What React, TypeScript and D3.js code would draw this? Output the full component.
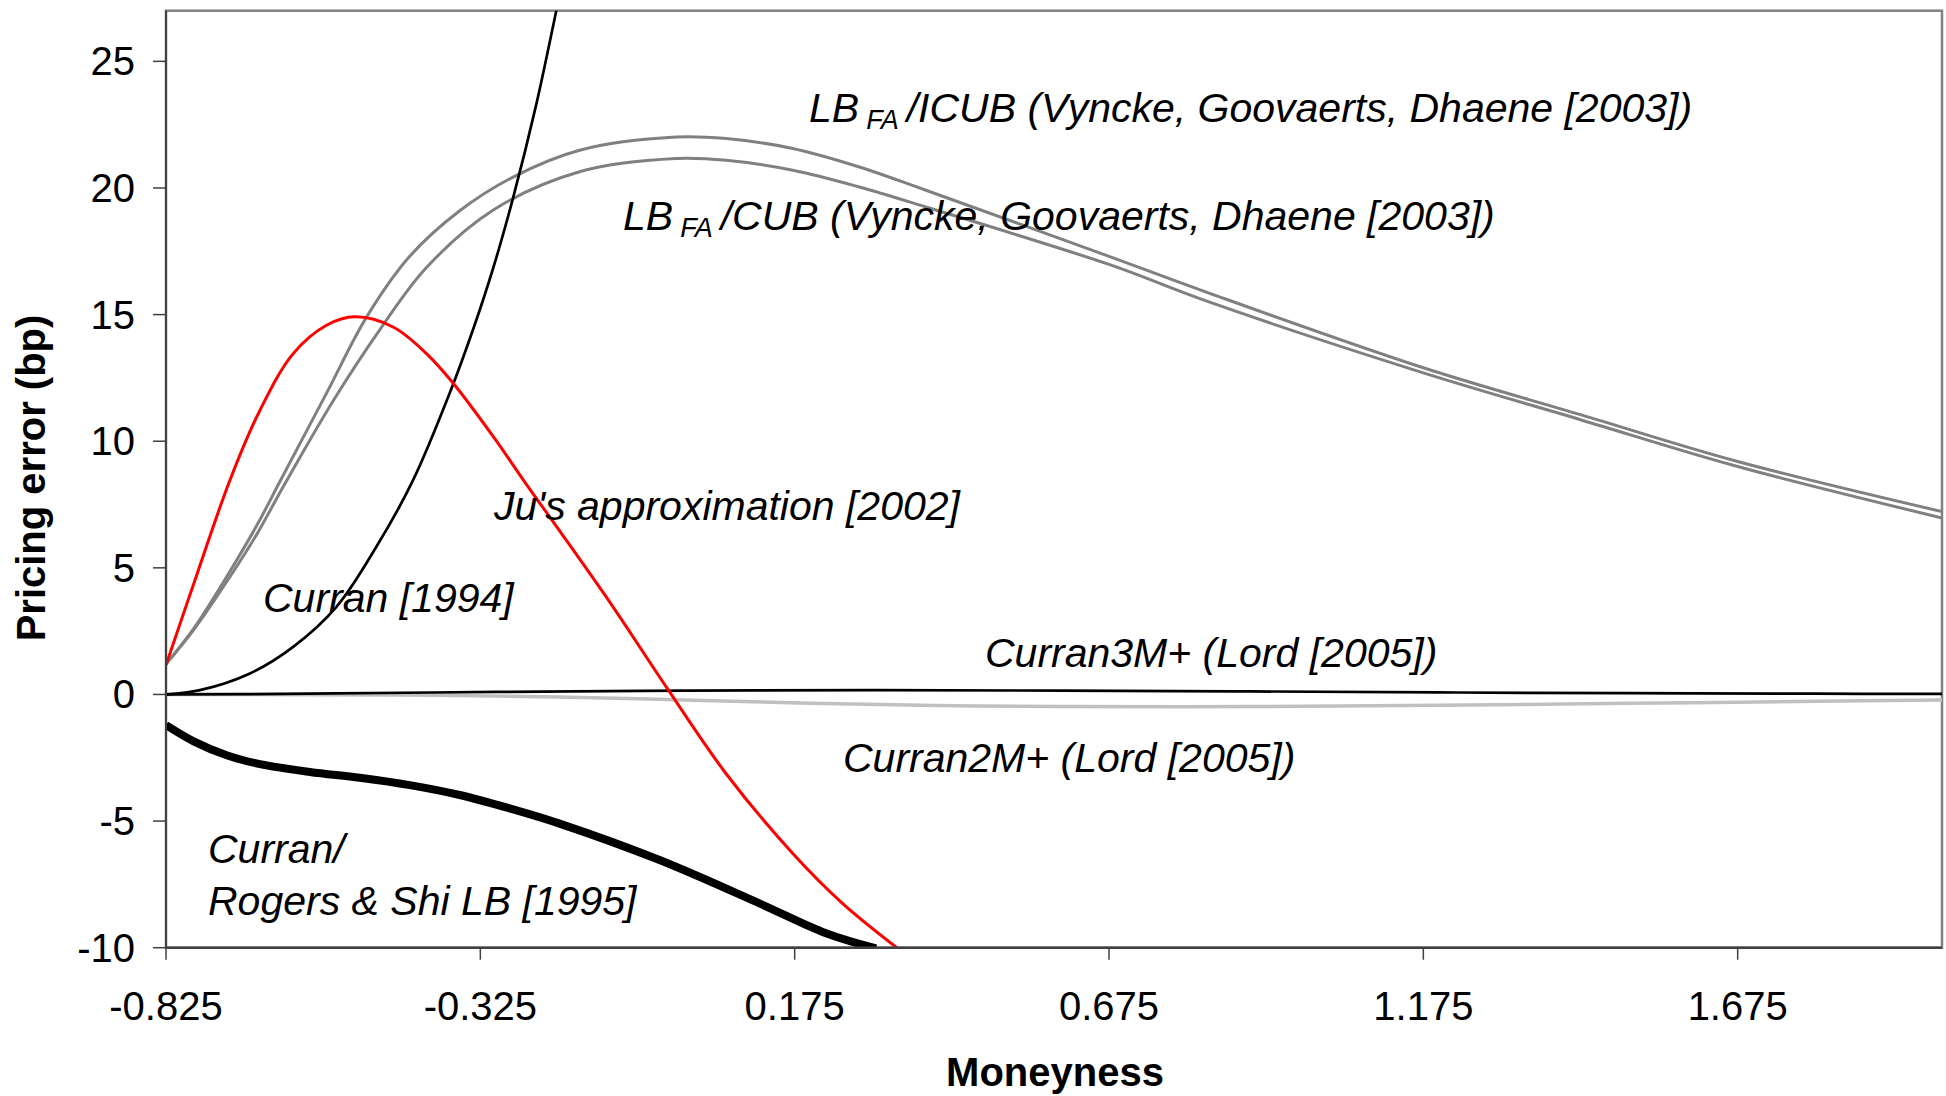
import React from 'react';
import * as d3 from 'd3';

// chart size, same as the picture
const W = 1946;
const H = 1096;

// axis ticks
const yTicks = [-10, -5, 0, 5, 10, 15, 20, 25];
const xTicks = [-0.825, -0.325, 0.175, 0.675, 1.175, 1.675];
const xTickLabels = ['-0.825', '-0.325', '0.175', '0.675', '1.175', '1.675'];

// series: [moneyness, pricing error (bp)]
const curran1994 = [
  [-0.825, 0], [-0.771, 0.17], [-0.6915, 0.83], [-0.6227, 1.88], [-0.5539, 3.46],
  [-0.4904, 5.83], [-0.432, 8.46], [-0.3737, 11.9], [-0.3367, 14.4], [-0.305, 16.8],
  [-0.273, 19.6], [-0.236, 23.3], [-0.2042, 27.0], [-0.19, 28.7],
];

const juApprox = [
  [-0.825, 1.16], [-0.775, 4.8], [-0.7233, 8.46], [-0.6756, 11.22], [-0.6227, 13.46],
  [-0.5696, 14.58], [-0.5247, 14.91], [-0.4638, 14.51], [-0.4107, 13.46], [-0.3685, 12.3],
  [-0.3049, 10.2], [-0.2518, 8.3], [-0.2, 6.5], [-0.114, 3.46], [-0.0293, 0.3],
  [0.0657, -3.12], [0.172, -6.28], [0.251, -8.25], [0.339, -10.03],
];

const lbIcub = [
  [-0.825, 1.2], [-0.781, 2.6], [-0.7285, 4.65], [-0.68, 6.7], [-0.644, 8.4], [-0.5696, 11.9],
  [-0.506, 14.9], [-0.4373, 17.3], [-0.3578, 19.1], [-0.273, 20.43], [-0.167, 21.49],
  [-0.0135, 22.01], [0.066, 21.95], [0.172, 21.56], [0.2778, 20.83], [0.3838, 19.91],
  [0.675, 17.3], [0.834, 15.85], [1.175, 12.9], [1.425, 11.05], [1.675, 9.2], [2.0, 7.22],
];

const lbCub = [
  [-0.825, 1.2], [-0.781, 2.55], [-0.7285, 4.45], [-0.68, 6.35], [-0.6386, 8.2], [-0.559, 11.6],
  [-0.485, 14.4], [-0.411, 16.85], [-0.305, 19.12], [-0.1671, 20.64], [-0.0135, 21.16],
  [0.066, 21.09], [0.172, 20.7], [0.2778, 20.04], [0.3838, 19.25], [0.675, 16.98],
  [0.834, 15.5], [1.175, 12.7], [1.425, 10.85], [1.675, 9.0], [2.0, 6.97],
];

const curran3M = [
  [-0.825, 0], [-0.6, 0.03], [-0.3, 0.1], [0, 0.15], [0.3, 0.17], [0.6, 0.15],
  [0.9, 0.12], [1.2, 0.08], [1.5, 0.05], [1.8, 0.03], [2.0, 0.02],
];

const curran2M = [
  [-0.825, 0], [-0.6, -0.01], [-0.4, -0.03], [-0.2, -0.1], [0, -0.22], [0.2, -0.35],
  [0.4, -0.44], [0.6, -0.48], [0.9, -0.48], [1.2, -0.43], [1.5, -0.35], [1.8, -0.27], [2.0, -0.22],
];

const rogersShi = [
  [-0.825, -1.21], [-0.781, -1.85], [-0.7285, -2.4], [-0.6756, -2.75], [-0.5961, -3.06],
  [-0.5167, -3.29], [-0.4373, -3.58], [-0.3578, -3.97], [-0.2784, -4.5], [-0.199, -5.1],
  [-0.0399, -6.54], [0.119, -8.25], [0.2249, -9.43], [0.3044, -10.03],
];

const series = [
  { name: 'lbIcub', data: lbIcub, color: '#808080', width: 3 },
  { name: 'lbCub', data: lbCub, color: '#808080', width: 3 },
  { name: 'curran2M', data: curran2M, color: '#c0c0c0', width: 3.5 },
  { name: 'curran3M', data: curran3M, color: '#000000', width: 2.7 },
  { name: 'rogersShi', data: rogersShi, color: '#000000', width: 8 },
  { name: 'curran1994', data: curran1994, color: '#000000', width: 2.7 },
  { name: 'juApprox', data: juApprox, color: '#ff0000', width: 3 },
];

const FONT = '"Liberation Sans", Arial, sans-serif';

export default function App() {
  const x = d3.scaleLinear().domain([-0.825, 2.0]).range([166, 1942]);
  const y = d3.scaleLinear().domain([-10, 27]).range([947.7, 10.7]);

  const line = d3
    .line<number[]>()
    .x(d => x(d[0]))
    .y(d => y(d[1]))
    .curve(d3.curveCatmullRom.alpha(0.5));

  const x0 = x.range()[0], x1 = x.range()[1];
  const yTop = y.range()[1], yBot = y.range()[0];

  return (
    <svg
      width={W}
      height={H}
      style={{ position: 'absolute', left: 0, top: 0, background: '#fff' }}
      fontFamily={FONT}
    >
      <defs>
        <clipPath id="plot">
          <rect x={x0} y={yTop} width={x1 - x0} height={yBot - yTop} />
        </clipPath>
      </defs>

      {/* plot frame */}
      <rect x={x0} y={yTop} width={x1 - x0} height={yBot - yTop}
        fill="#fff" stroke="#808080" strokeWidth={2.5} />

      {/* series */}
      <g clipPath="url(#plot)">
        {series.map(s => (
          <path key={s.name} d={line(s.data) || ''} fill="none"
            stroke={s.color} strokeWidth={s.width} strokeLinejoin="round" />
        ))}
      </g>

      {/* axes */}
      <line x1={x0} x2={x0} y1={yTop} y2={yBot} stroke="#404040" strokeWidth={2} />
      <line x1={x0} x2={x1} y1={yBot} y2={yBot} stroke="#404040" strokeWidth={2.5} />

      {yTicks.map(t => (
        <g key={'y' + t}>
          <line x1={x0 - 13} x2={x0} y1={y(t)} y2={y(t)} stroke="#404040" strokeWidth={1.5} />
          <text x={135} y={y(t)} dy="0.35em" textAnchor="end" fontSize={40}>{t}</text>
        </g>
      ))}

      {xTicks.map((t, i) => (
        <g key={'x' + t}>
          <line x1={x(t)} x2={x(t)} y1={yBot} y2={yBot + 12} stroke="#404040" strokeWidth={1.5} />
          <text x={x(t)} y={1020} textAnchor="middle" fontSize={40}>{xTickLabels[i]}</text>
        </g>
      ))}

      {/* axis titles */}
      <text x={1055} y={1086} textAnchor="middle" fontSize={40} fontWeight="bold">Moneyness</text>
      <text transform="translate(45,478) rotate(-90)" textAnchor="middle" fontSize={40} fontWeight="bold">
        Pricing error (bp)
      </text>

      {/* annotations */}
      <g fontStyle="italic" fontSize={41}>
        <text x={809} y={122}>
          LB<tspan fontSize={27} dx={7} dy={7}>FA</tspan>
          <tspan fontSize={41} dx={8} dy={-7}>/ICUB (Vyncke, Goovaerts, Dhaene [2003])</tspan>
        </text>
        <text x={623} y={229.5}>
          LB<tspan fontSize={27} dx={7} dy={7}>FA</tspan>
          <tspan fontSize={41} dx={8} dy={-7}>/CUB (Vyncke, Goovaerts, Dhaene [2003])</tspan>
        </text>
        <text x={494} y={520}>Ju's approximation [2002]</text>
        <text x={263} y={611.7}>Curran [1994]</text>
        <text x={985} y={667}>Curran3M+ (Lord [2005])</text>
        <text x={843} y={771.7}>Curran2M+ (Lord [2005])</text>
        <text x={208} y={863.3}>Curran/</text>
        <text x={208} y={915}>Rogers &amp; Shi LB [1995]</text>
      </g>
    </svg>
  );
}
